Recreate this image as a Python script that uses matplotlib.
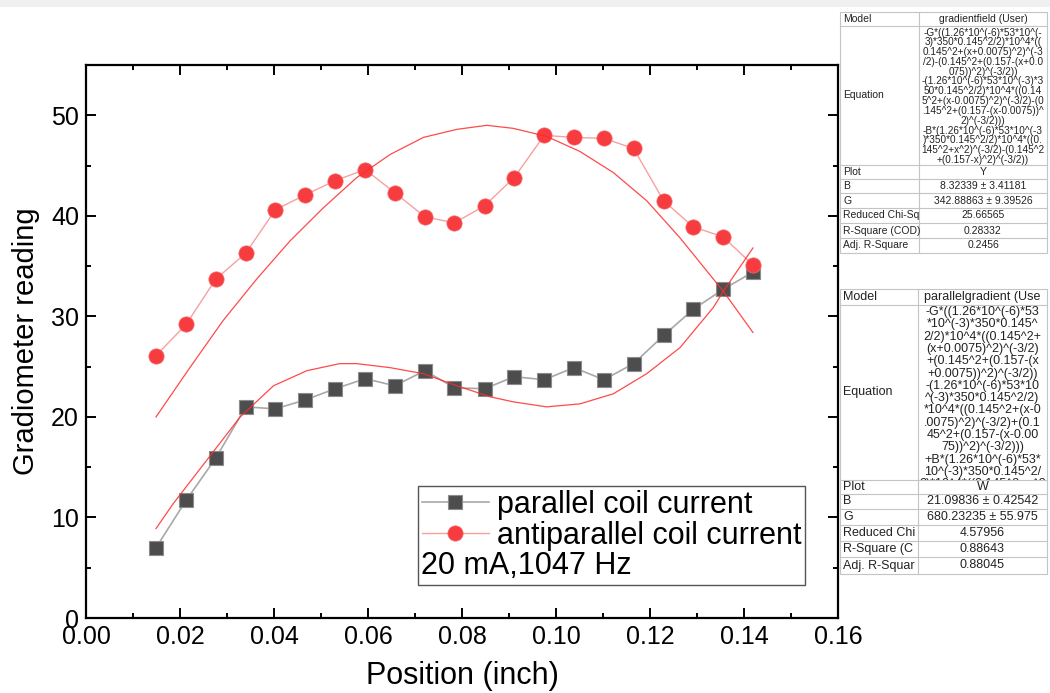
import matplotlib
matplotlib.use("Agg")
import matplotlib.pyplot as plt
from matplotlib.lines import Line2D
from matplotlib.patches import Rectangle
from matplotlib.ticker import MultipleLocator

plt.rcParams['font.family'] = ['Liberation Sans', 'DejaVu Sans']

# measured points (position in inch)
position = [0.0149, 0.0213, 0.0276, 0.0340, 0.0403, 0.0467, 0.0530, 0.0594, 0.0657, 0.0721, 0.0784,
            0.0848, 0.0911, 0.0975, 0.1038, 0.1102, 0.1165, 0.1229, 0.1292, 0.1356, 0.1419]
parallel = [7.0, 11.7, 15.9, 21.0, 20.8, 21.7, 22.8, 23.8, 23.1, 24.6, 22.9,
            22.8, 24.0, 23.7, 24.9, 23.7, 25.3, 28.1, 30.7, 32.7, 34.4]
antiparallel = [26.1, 29.2, 33.7, 36.3, 40.6, 42.1, 43.5, 44.6, 42.3, 39.9, 39.3,
                41.0, 43.8, 48.0, 47.8, 47.7, 46.7, 41.5, 38.9, 37.9, 35.1]

# fit curves
fit_anti_x = [0.0149, 0.0221, 0.0292, 0.0363, 0.0434, 0.0505, 0.0576, 0.0647, 0.0718, 0.0789,
              0.0853, 0.0909, 0.0980, 0.1051, 0.1122, 0.1193, 0.1264, 0.1335, 0.1356, 0.1419]
fit_anti_y = [20.0, 24.9, 29.6, 33.7, 37.5, 40.8, 43.8, 46.1, 47.8, 48.6,
              49.0, 48.7, 47.9, 46.4, 44.3, 41.5, 37.8, 33.7, 32.5, 28.4]
fit_par_x = [0.0149, 0.0186, 0.0257, 0.0328, 0.0399, 0.0470, 0.0540, 0.0576, 0.0647, 0.0718, 0.0789,
             0.0860, 0.0909, 0.0980, 0.1051, 0.1122, 0.1193, 0.1264, 0.1335, 0.1356, 0.1419]
fit_par_y = [8.9, 11.4, 15.7, 20.0, 23.1, 24.6, 25.3, 25.3, 24.9, 24.3, 23.1,
             22.0, 21.5, 21.0, 21.3, 22.3, 24.3, 26.9, 30.9, 32.5, 36.8]

legend_labels = ['parallel coil current', 'antiparallel coil current', '20 mA,1047 Hz']

# fit report tables
t1_labels = ['Model', 'Equation', 'Plot', 'B', 'G', 'Reduced Chi-Sq', 'R-Square (COD)', 'Adj. R-Square']
t1_values = ['gradientfield (User)', None, 'Y', '8.32339 ± 3.41181', '342.88863 ± 9.39526',
             '25.66565', '0.28332', '0.2456']
t1_equation = [
    '-G*((1.26*10^(-6)*53*10^(-',
    '3)*350*0.145^2/2)*10^4*((',
    '0.145^2+(x+0.0075)^2)^(-3',
    '/2)-(0.145^2+(0.157-(x+0.0',
    '075))^2)^(-3/2))',
    '-(1.26*10^(-6)*53*10^(-3)*3',
    '50*0.145^2/2)*10^4*((0.14',
    '5^2+(x-0.0075)^2)^(-3/2)-(0',
    '.145^2+(0.157-(x-0.0075))^',
    '2)^(-3/2)))',
    '-B*(1.26*10^(-6)*53*10^(-3',
    ')*350*0.145^2/2)*10^4*((0.',
    '145^2+x^2)^(-3/2)-(0.145^2',
    '+(0.157-x)^2)^(-3/2))',
]
t2_labels = ['Model', 'Equation', 'Plot', 'B', 'G', 'Reduced Chi', 'R-Square (C', 'Adj. R-Squar']
t2_values = ['parallelgradient (Use', None, 'W', '21.09836 ± 0.42542', '680.23235 ± 55.975',
             '4.57956', '0.88643', '0.88045']
t2_equation = [
    '-G*((1.26*10^(-6)*53',
    '*10^(-3)*350*0.145^',
    '2/2)*10^4*((0.145^2+',
    '(x+0.0075)^2)^(-3/2)',
    '+(0.145^2+(0.157-(x',
    '+0.0075))^2)^(-3/2))',
    '-(1.26*10^(-6)*53*10',
    '^(-3)*350*0.145^2/2)',
    '*10^4*((0.145^2+(x-0',
    '.0075)^2)^(-3/2)+(0.1',
    '45^2+(0.157-(x-0.00',
    '75))^2)^(-3/2)))',
    '+B*(1.26*10^(-6)*53*',
    '10^(-3)*350*0.145^2/',
    '2)*10^4*((0.145^2+x^2',
]

fig = plt.figure(figsize=(10.5, 6.93), dpi=100)
ax = fig.add_axes([0.0819, 0.1082, 0.7162, 0.798])

ax.plot(position, parallel, color='#a8a8a8', lw=1.2, marker='s', ms=10,
        mfc='#4d4d4d', mec='#8c8c8c', mew=0.8, zorder=3)
ax.plot(position, antiparallel, color='#f7a0a0', lw=1.0, marker='o', ms=11,
        mfc='#f63c3f', mec='#f86a6c', mew=0.5, zorder=4)
ax.plot(fit_anti_x, fit_anti_y, color='#ff2a2a', lw=0.9, alpha=0.85, zorder=5)
ax.plot(fit_par_x, fit_par_y, color='#ff2a2a', lw=0.9, alpha=0.85, zorder=5)

ax.set_xlim(0, 0.16)
ax.set_ylim(0, 55)
ax.xaxis.set_major_locator(MultipleLocator(0.02))
ax.xaxis.set_minor_locator(MultipleLocator(0.01))
ax.yaxis.set_major_locator(MultipleLocator(10))
ax.yaxis.set_minor_locator(MultipleLocator(5))
ax.xaxis.set_major_formatter(matplotlib.ticker.FormatStrFormatter('%.2f'))
ax.tick_params(which='both', direction='in', top=True, right=True, width=1.4, labelsize=18, pad=5)
ax.tick_params(which='major', length=7)
ax.tick_params(which='minor', length=3.5)
for s in ax.spines.values():
    s.set_linewidth(1.6)
ax.set_xlabel('Position (inch)', fontsize=22, labelpad=9)
ax.set_ylabel('Gradiometer reading', fontsize=21, labelpad=8)

h1 = Line2D([], [], color='#a8a8a8', lw=1.2, marker='s', ms=10, mfc='#4d4d4d', mec='#8c8c8c', mew=0.8)
h2 = Line2D([], [], color='#f7a0a0', lw=1.0, marker='o', ms=11, mfc='#f63c3f', mec='#f86a6c', mew=0.5)
h3 = Line2D([], [], linestyle='none')
leg = ax.legend([h1, h2, h3], legend_labels, loc='lower left', bbox_to_anchor=(0.4415, 0.0597),
                fontsize=22, frameon=True, fancybox=False, edgecolor='#555555', framealpha=1,
                borderpad=0.12, labelspacing=0.02, handlelength=2.2, handletextpad=0.25,
                borderaxespad=0)
leg.get_frame().set_linewidth(1.0)
leg.get_texts()[2].set_color('none')

# overlay in pixel coordinates for the tables and the third legend row
ov = fig.add_axes([0, 0, 1, 1], facecolor='none')
ov.set_xlim(0, 1050)
ov.set_ylim(693, 0)
ov.axis('off')
ov.add_patch(Rectangle((0, 0), 1050, 7, color='#f0f0f0', lw=0))

fig.canvas.draw()
fr = leg.get_frame().get_window_extent()
tb = leg.get_texts()[2].get_window_extent()
ov.text(fr.x0 + 3, 693 - (tb.y0 + tb.y1) / 2, legend_labels[2], fontsize=22,
        ha='left', va='center', color='black')

grid = '#c4c4c4'


def clipped_text(x, y, s, clip, **kw):
    t = ov.text(x, y, s, ha='center', va='center', color='#222222', **kw)
    t.set_clip_path(clip)
    t.set_clip_on(True)
    return t


def draw_table(left, mid, right, edges, labels, values, size, eq_lines, eq_top, eq_step, eq_size):
    ov.add_patch(Rectangle((left, edges[0]), right - left, edges[-1] - edges[0],
                           fill=False, ec=grid, lw=0.8))
    for y in edges[1:-1]:
        ov.plot([left, right], [y, y], color=grid, lw=0.8)
    ov.plot([mid, mid], [edges[0], edges[-1]], color=grid, lw=0.8)
    for i, (lab, val) in enumerate(zip(labels, values)):
        yc = (edges[i] + edges[i + 1]) / 2
        ov.text(left + 3, yc, lab, ha='left', va='center', fontsize=size, color='#222222')
        cell = Rectangle((mid, edges[i]), right - mid, edges[i + 1] - edges[i],
                         transform=ov.transData)
        if val is None:
            for k, line in enumerate(eq_lines):
                clipped_text((mid + right) / 2, eq_top + k * eq_step, line, cell, fontsize=eq_size)
        else:
            clipped_text((mid + right) / 2, yc, val, cell, fontsize=size)


draw_table(840, 919, 1047, [12, 26, 165, 179, 193, 208, 223, 238, 253], t1_labels, t1_values,
           7.5, t1_equation, 32.5, 9.8, 7.2)
draw_table(840, 918, 1047, [289, 305, 480, 494, 509, 525, 541, 557, 574], t2_labels, t2_values,
           9, t2_equation, 312, 12.3, 9)

fig.savefig('out.png', dpi=100)
